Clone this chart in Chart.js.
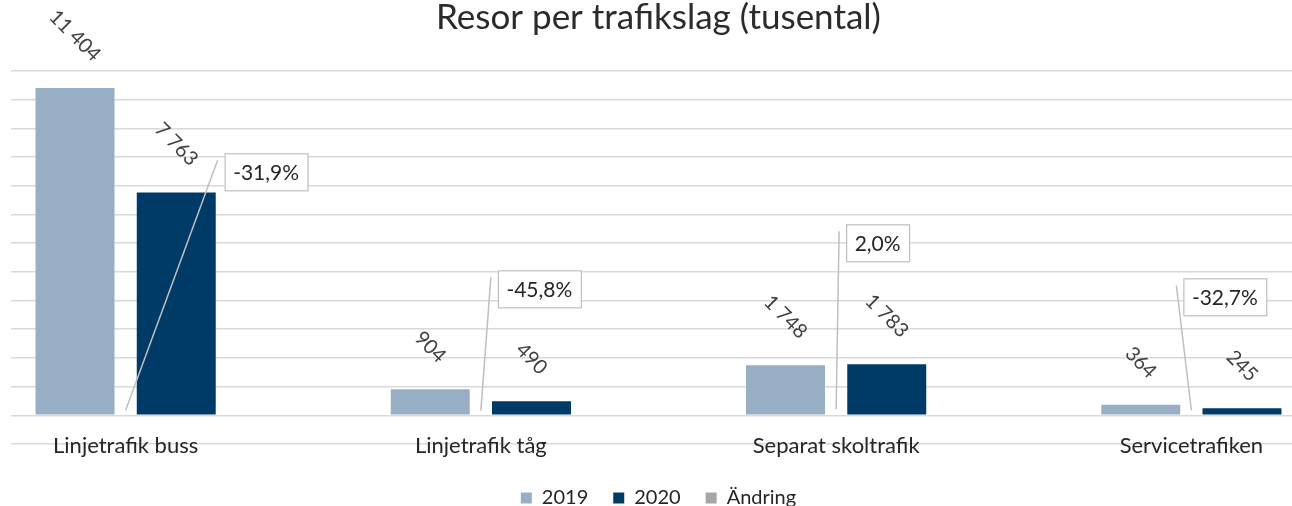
<!DOCTYPE html>
<html>
<head>
<meta charset="utf-8">
<script src="https://cdn.jsdelivr.net/npm/chart.js@4.4.1/dist/chart.umd.min.js"></script>
<style>
  html, body { margin: 0; padding: 0; background: #fff; overflow: hidden; }
  body { width: 1292px; height: 506px; position: relative; }
  /* the original plot is wider than the picture, so the canvas hangs off the left */
  #wrap { position: absolute; left: -52px; top: 0; width: 1421px; height: 518px; }
</style>
</head>
<body>
<div id="wrap"><canvas id="chart"></canvas></div>
<script>
const categories = ["Linjetrafik buss", "Linjetrafik tåg", "Separat skoltrafik", "Servicetrafiken"];
const trips2019 = [11404, 904, 1748, 364];
const trips2020 = [7763, 490, 1783, 245];
const changePct = [-31.9, -45.8, 2.0, -32.7];
const seriesNames = ["2019", "2020", "Ändring"];
const yMin = -1000, yMax = 12000, yStep = 1000;

// where the change callouts sit: [dx from category centre, dy from zero line] in px
const changeBoxOffset = [[99, -262], [17, -145], [10, -191], [-8, -137]];

const canvasShift = 52;   // px the canvas is pushed left
const gridStartX = 11;    // grid lines start here in the picture

const fmt = v => String(v).replace(/\B(?=(\d{3})+(?!\d))/g, " ");
const fmtPct = v => v.toFixed(1).replace(".", ",") + "%";

Chart.defaults.font.family = "Lato";

const trimGrid = {
  id: "trimGrid",
  beforeDatasetsDraw(chart) {
    const { ctx, chartArea } = chart;
    ctx.save();
    ctx.fillStyle = "#fff";
    ctx.fillRect(0, chartArea.top - 3, canvasShift + gridStartX, chartArea.bottom - chartArea.top + 6);
    ctx.restore();
  }
};

// category names sit on top of the lowest grid line, so they are drawn here
const categoryLabels = {
  id: "categoryLabels",
  afterDraw(chart) {
    const { ctx, chartArea, scales } = chart;
    ctx.save();
    ctx.font = "22px Lato";
    ctx.fillStyle = "#262626";
    ctx.textAlign = "center";
    ctx.textBaseline = "alphabetic";
    categories.forEach((c, i) => {
      ctx.fillText(c, scales.x.getPixelForValue(i), chartArea.bottom + 9);
    });
    ctx.restore();
  }
};

const labels = {
  id: "labels",
  afterDatasetsDraw(chart) {
    const ctx = chart.ctx;
    const size = 20;
    ctx.save();
    ctx.font = size + "px Lato";
    ctx.fillStyle = "#404040";
    ctx.textAlign = "center";
    ctx.textBaseline = "middle";
    [0, 1].forEach(di => {
      chart.getDatasetMeta(di).data.forEach((bar, i) => {
        const text = fmt(chart.data.datasets[di].data[i]);
        const w = ctx.measureText(text).width;
        const lift = 25 + (w + size * 0.72) / (2 * Math.SQRT2);
        ctx.save();
        ctx.translate(bar.x, bar.y - lift);
        ctx.rotate(Math.PI / 4);
        ctx.fillText(text, 0, 0);
        ctx.restore();
      });
    });

    // change callouts with leader lines
    const zeroY = chart.scales.y.getPixelForValue(0);
    ctx.font = "21px Lato";
    chart.getDatasetMeta(2).data.forEach((pt, i) => {
      const text = fmtPct(changePct[i]);
      const w = ctx.measureText(text).width + 17;
      const h = 37;
      const left = pt.x + changeBoxOffset[i][0];
      const top = zeroY + changeBoxOffset[i][1];
      ctx.strokeStyle = "#bfbfbf";
      ctx.lineWidth = 1.5;
      ctx.beginPath();
      ctx.moveTo(pt.x, pt.y - 6);
      ctx.lineTo(left - 7, top + 7);
      ctx.stroke();
      ctx.fillStyle = "#fff";
      ctx.fillRect(left, top, w, h);
      ctx.lineWidth = 1.2;
      ctx.strokeRect(left + 0.5, top + 0.5, w, h);
      ctx.fillStyle = "#262626";
      ctx.fillText(text, left + w / 2, top + h / 2 + 1);
    });
    ctx.restore();
  }
};

new Chart(document.getElementById("chart"), {
  data: {
    labels: categories,
    datasets: [
      {
        type: "bar",
        label: seriesNames[0],
        data: trips2019,
        backgroundColor: "#98aec4",
        barPercentage: 0.78,
        categoryPercentage: 0.57
      },
      {
        type: "bar",
        label: seriesNames[1],
        data: trips2020,
        backgroundColor: "#003a66",
        barPercentage: 0.78,
        categoryPercentage: 0.57
      },
      {
        type: "line",
        label: seriesNames[2],
        data: changePct,
        showLine: false,
        pointRadius: 0,
        backgroundColor: "#a6a6a6",
        borderColor: "#a6a6a6",
        borderWidth: 0
      }
    ]
  },
  options: {
    responsive: true,
    maintainAspectRatio: false,
    animation: false,
    layout: { padding: 0 },
    plugins: {
      title: {
        display: true,
        text: "Resor per trafikslag (tusental)",
        color: "#2b2b2b",
        font: { size: 35, weight: "normal" },
        padding: { top: -3, bottom: 32 }
      },
      legend: {
        position: "bottom",
        labels: {
          boxWidth: 11,
          boxHeight: 11,
          padding: 25,
          color: "#262626",
          font: { size: 20 }
        }
      },
      tooltip: { enabled: false }
    },
    scales: {
      x: {
        offset: true,
        grid: { display: false },
        border: { display: false },
        ticks: { display: false },
        afterFit: s => { s.height = 19; }
      },
      y: {
        min: yMin,
        max: yMax,
        ticks: { display: false, stepSize: yStep },
        grid: { color: "#d9d9d9", lineWidth: 1.5, drawTicks: false },
        border: { display: false }
      }
    }
  },
  plugins: [trimGrid, labels, categoryLabels]
});
</script>
</body>
</html>
